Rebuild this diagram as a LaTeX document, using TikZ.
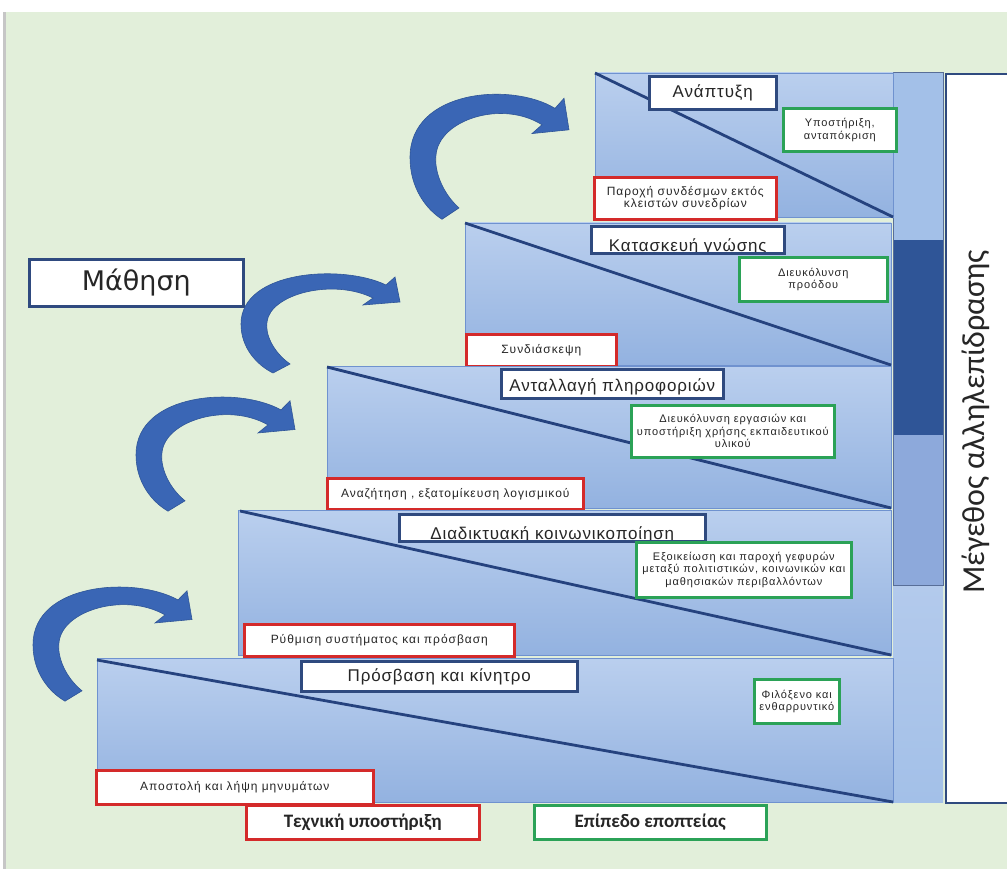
\documentclass[tikz,border=0pt]{standalone}
\usepackage{fontspec}
\setmainfont{Liberation Sans}
\newfontfamily\carl{Carlito}
\newfontfamily\dejavu{DejaVu Sans}
\newfontfamily\smallf[LetterSpace=8]{Liberation Sans}
\newfontfamily\titlef[LetterSpace=5]{Liberation Sans}
\definecolor{bggreen}{HTML}{E2EFDA}
\definecolor{navy}{HTML}{2F4A7F}
\definecolor{redc}{HTML}{D42A2A}
\definecolor{greenc}{HTML}{2BA257}
\definecolor{steptop}{HTML}{BACFEE}
\definecolor{stepbot}{HTML}{93B2E0}
\definecolor{stepedge}{HTML}{6F92CF}
\definecolor{diagc}{HTML}{25427E}
\definecolor{arrowc}{HTML}{3A66B5}
\definecolor{arrowedge}{HTML}{2F5597}
\definecolor{barlight}{HTML}{A3C0E8}
\definecolor{bardark}{HTML}{2F5597}
\definecolor{barmid}{HTML}{8DA9DB}
\definecolor{barlow}{HTML}{B3CAEC}
\definecolor{txt}{HTML}{262626}
\tikzset{
  stepbox/.style={top color=steptop, bottom color=stepbot, draw=stepedge, line width=0.8pt},
  diag/.style={draw=diagc, line width=2.8pt},
  titlebox/.style={draw=navy, line width=2.6pt, fill=white, inner sep=0pt, anchor=north west, text=txt, font=\titlef\fontsize{17}{19}\selectfont},
  redbox/.style={draw=redc, line width=2.6pt, fill=white, inner sep=0pt, anchor=north west, align=center, text=txt, font=\smallf\fontsize{12}{12.5}\selectfont},
  greenbox/.style={draw=greenc, line width=2.6pt, fill=white, inner sep=0pt, anchor=north west, align=center, text=txt, font=\smallf\fontsize{11}{12.5}\selectfont},
  bottomlabel/.style={font=\carl\bfseries\fontsize{19}{21}\selectfont},
  cliptext/.style 2 args={path picture={
      \node[anchor=center, draw=none, fill=none, text=txt, font=\titlef\fontsize{17}{19}\selectfont, inner sep=0pt]
        at ([yshift=#2]path picture bounding box.center) {#1};}},
  crescent/.pic={
    \fill[arrowc, draw=arrowedge, line width=0.6pt]
      (143,13) .. controls (100,-8) and (-2,-2) .. (-2,52)
      .. controls (-2,76) and (14,93) .. (30,101) -- (47,92)
      .. controls (30,80) and (22,62) .. (24,50)
      .. controls (27,22) and (90,6) .. (130,26)
      -- (120,33) -- (157,30) -- (152,5) -- cycle;
  }
}
\begin{document}
\begin{tikzpicture}[x=1pt,y=-1pt]
\useasboundingbox (0,0) rectangle (1007,869);
% background
\fill[white] (0,0) rectangle (1007,869);
\fill[bggreen] (6,12) rectangle (1007,869);
\fill[gray!45] (3,12) rectangle (6,869);

% right bar
\fill[barlight] (893,73) rectangle (943,240);
\fill[bardark] (893,240) rectangle (943,435);
\fill[barmid] (893,435) rectangle (943,585);
\shade[top color=barlow, bottom color=barlight] (893,585) rectangle (943,802);
\draw[navy!80, line width=1pt] (893,73) rectangle (943,585);

% magnitude box
\node[draw=navy, line width=1.6pt, fill=white, inner sep=0pt, anchor=north west,
      minimum width=70pt, minimum height=729pt] (mag) at (945,73) {};
\node[rotate=90, font=\carl\fontsize{32}{34}\selectfont, text=txt] (magtext) at (976,422) {Μέγεθος αλληλεπίδρασης};

% stage 5
\shade[stepbox] (595,73) rectangle (893,217);
\draw[diag] (595,73) -- (893,217);
\node[titlebox, minimum width=127pt, minimum height=33pt] (t5) at (648,75) {Ανάπτυξη};
\node[greenbox, minimum width=113pt, minimum height=43pt] (g5) at (782,107) {Υποστήριξη,\\ανταπόκριση};
\node[redbox, minimum width=182pt, minimum height=42pt] (r5) at (593,176) {Παροχή συνδέσμων εκτός\\κλειστών συνεδρίων};

% stage 4
\shade[stepbox] (465,223) rectangle (891,365);
\draw[diag] (465,223) -- (891,365);
\node[titlebox, minimum width=193pt, minimum height=27pt, cliptext={Κατασκευή γνώσης}{-7pt}] (t4) at (590,225) {};
\node[greenbox, minimum width=148pt, minimum height=44pt] (g4) at (738,256) {Διευκόλυνση\\προόδου};
\node[redbox, minimum width=150pt, minimum height=32pt] (r4) at (465,333) {Συνδιάσκεψη};

% stage 3
\shade[stepbox] (327,366) rectangle (891,508);
\draw[diag] (327,367) -- (891,508);
\node[titlebox, minimum width=222pt, minimum height=29pt, cliptext={Ανταλλαγή πληροφοριών}{-3pt}] (t3) at (500,368) {};
\node[greenbox, minimum width=203pt, minimum height=52pt] (g3) at (630,404) {Διευκόλυνση εργασιών και\\υποστήριξη χρήσης εκπαιδευτικού\\υλικού};
\node[redbox, minimum width=256pt, minimum height=31pt] (r3) at (326,477) {Αναζήτηση , εξατομίκευση λογισμικού};

% stage 2
\shade[stepbox] (238,510) rectangle (891,655);
\draw[diag] (240,511) -- (891,655);
\node[titlebox, minimum width=306pt, minimum height=27pt, cliptext={Διαδικτυακή κοινωνικοποίηση}{-7pt}] (t2) at (398,513) {};
\node[greenbox, minimum width=215pt, minimum height=55pt] (g2) at (635,541) {Εξοικείωση και παροχή γεφυρών\\μεταξύ πολιτιστικών, κοινωνικών και\\μαθησιακών περιβαλλόντων};
\node[redbox, minimum width=270pt, minimum height=32pt] (r2) at (243,623) {Ρύθμιση συστήματος και πρόσβαση};

% stage 1
\shade[stepbox] (97,658) rectangle (893,802);
\draw[diag] (97,660) -- (893,802);
\node[titlebox, minimum width=276pt, minimum height=30pt, cliptext={Πρόσβαση και κίνητρο}{-1pt}] (t1) at (300,660) {};
\node[greenbox, minimum width=85pt, minimum height=44pt] (g1) at (753,678) {Φιλόξενο και\\ενθαρρυντικό};
\node[redbox, minimum width=277pt, minimum height=34pt] (r1) at (95,769) {Αποστολή και λήψη μηνυμάτων};

% bottom labels
\node[redbox, bottomlabel, minimum width=233pt, minimum height=34pt] (tech) at (245,804) {Τεχνική υποστήριξη};
\node[greenbox, bottomlabel, minimum width=232pt, minimum height=34pt] (mod) at (533,804) {Επίπεδο εποπτείας};

% learning
\node[draw=navy, line width=2.6pt, fill=white, inner sep=0pt, anchor=north west,
      minimum width=214pt, minimum height=47pt, text=txt,
      font=\dejavu\fontsize{27}{30}\selectfont] (learn) at (28,258) {Μάθηση};

% arrows
\pic[yscale=1.26] at (412,92) {crescent};
\pic at (243,272) {crescent};
\pic[yscale=1.15] at (138,395) {crescent};
\pic[yscale=1.15] at (35,585) {crescent};
\end{tikzpicture}
\end{document}
